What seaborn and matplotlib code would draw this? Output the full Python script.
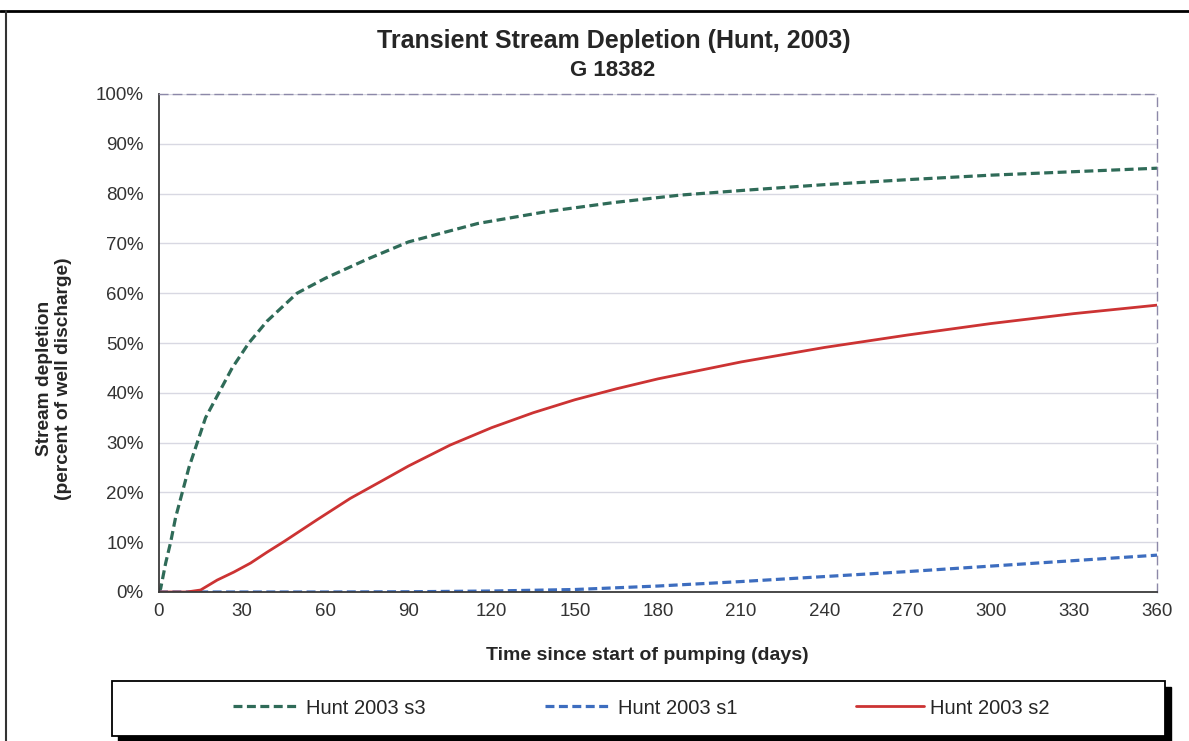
import matplotlib
matplotlib.use("Agg")
import matplotlib.pyplot as plt
from matplotlib.patches import Rectangle
from matplotlib.lines import Line2D
from matplotlib.ticker import PercentFormatter, MultipleLocator
import seaborn as sns

# values (days, percent of well discharge)
days_s3 = [0, 0.6, 2.4, 4.2, 6, 8.4, 10.8, 13.8, 16.8, 21.6, 26.4, 32.4, 39, 49.8,
           60, 75, 90, 115, 140, 164, 188, 212, 240, 270, 300, 330, 360]
pct_s3 = [0, 0.7, 5.8, 10, 15, 20, 25, 30, 35, 40, 45, 50, 54.4, 60,
          63, 66.8, 70.3, 74, 76.4, 78.2, 79.7, 80.7, 81.8, 82.8, 83.7, 84.4, 85.1]

days_s1 = [0, 30, 60, 90, 120, 150, 180, 210, 240, 270, 300, 330, 360]
pct_s1 = [0, 0, 0, 0.05, 0.2, 0.5, 1.2, 2.1, 3.1, 4.1, 5.2, 6.3, 7.4]

days_s2 = [0, 10, 15, 21, 27, 33, 39, 45, 57, 69, 81, 90, 105, 120, 135, 150,
           165, 180, 210, 240, 270, 300, 330, 360]
pct_s2 = [0, 0, 0.4, 2.4, 4, 5.8, 8, 10.1, 14.5, 18.8, 22.5, 25.3, 29.5, 33, 36, 38.6,
          40.8, 42.8, 46.2, 49.1, 51.6, 53.9, 55.9, 57.6]

labels = ["Hunt 2003 s3", "Hunt 2003 s1", "Hunt 2003 s2"]
colors = ["#2f6b58", "#3d6dbf", "#cc3333"]
x_ticks = list(range(0, 361, 30))

sns.set_style("white")
plt.rcParams["font.family"] = ["Liberation Sans", "DejaVu Sans"]

fig = plt.figure(figsize=(11.89, 7.41), dpi=100)
ax = fig.add_axes([159 / 1189, 1 - 592 / 741, 998 / 1189, 498 / 741])

dash = (0, (2.8, 1.4))
sns.lineplot(x=days_s3, y=pct_s3, ax=ax, color=colors[0], lw=2.3, linestyle=dash, legend=False)
sns.lineplot(x=days_s1, y=pct_s1, ax=ax, color=colors[1], lw=2.3, linestyle=dash, legend=False)
sns.lineplot(x=days_s2, y=pct_s2, ax=ax, color=colors[2], lw=2.0, legend=False)

ax.set_xlim(0, 360)
ax.set_ylim(0, 100)
ax.set_xticks(x_ticks)
ax.yaxis.set_major_locator(MultipleLocator(10))
ax.yaxis.set_major_formatter(PercentFormatter(decimals=0))
ax.grid(axis="y", color="#d8d8e2", lw=1)
ax.set_axisbelow(True)

for s in ["left", "bottom"]:
    ax.spines[s].set_color("#3a3a3a")
    ax.spines[s].set_linewidth(1.3)
for s in ["top", "right"]:
    ax.spines[s].set_color("#8c88a8")
    ax.spines[s].set_linestyle((0, (6, 4)))
    ax.spines[s].set_linewidth(1.0)

ax.tick_params(axis="both", direction="out", length=5, width=1.2, color="#3a3a3a",
               labelsize=13.5, labelcolor="#333333", pad=6)
ax.tick_params(axis="x", pad=3)

ax.set_xlabel("Time since start of pumping (days)", fontsize=14, fontweight="bold")
ax.xaxis.set_label_coords(0.489, -0.1285)
ax.xaxis.label.set_va("center")
ax.set_ylabel("Stream depletion\n(percent of well discharge)", fontsize=13.8, fontweight="bold",
              linespacing=1.15)
ax.yaxis.set_label_coords(-0.105, 0.428)
ax.yaxis.label.set_va("center")

fig.text(614 / 1189, 1 - 41 / 741, "Transient Stream Depletion (Hunt, 2003)",
         ha="center", va="center", fontsize=18, fontweight="bold")
fig.text(613 / 1189, 1 - 70 / 741, "G 18382", ha="center", va="center",
         fontsize=16, fontweight="bold")

# outer frame lines (top and left)
fig.add_artist(Line2D([0, 1], [1 - 11 / 741] * 2, transform=fig.transFigure, color="black", lw=2))
fig.add_artist(Line2D([6 / 1189] * 2, [0, 1 - 11 / 741], transform=fig.transFigure, color="#333333", lw=1.5))

# legend box with shadow
bx, by, bw, bh = 112 / 1189, 1 - 736 / 741, 1053 / 1189, 55 / 741
fig.add_artist(Rectangle((bx + 6 / 1189, by - 6 / 741), bw, bh, transform=fig.transFigure,
                         facecolor="black", edgecolor="black"))
fig.add_artist(Rectangle((bx, by), bw, bh, transform=fig.transFigure,
                         facecolor="white", edgecolor="black", lw=1.3))

handles = [
    Line2D([], [], color=colors[0], lw=2.3, linestyle=dash),
    Line2D([], [], color=colors[1], lw=2.3, linestyle=dash),
    Line2D([], [], color=colors[2], lw=2.0),
]
fig.legend(handles, labels, loc="center", bbox_to_anchor=(641 / 1189, 1 - 708 / 741),
           ncol=3, frameon=False, fontsize=14.5, handlelength=3.35, handletextpad=0.3,
           columnspacing=5.9)

fig.savefig("out.png", dpi=100)
